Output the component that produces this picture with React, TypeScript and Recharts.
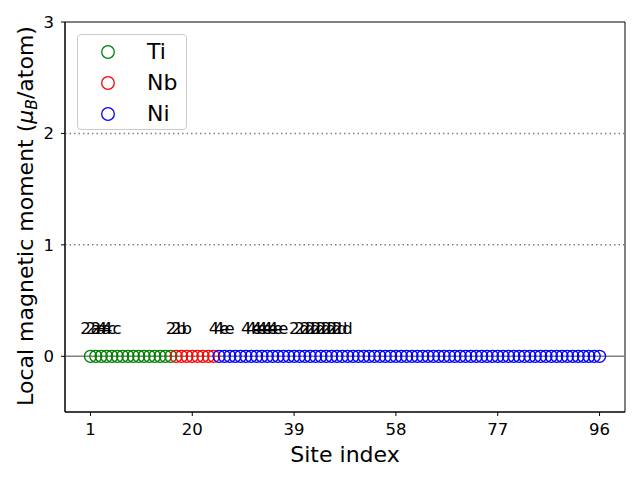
import React from 'react';
import {
  ScatterChart,
  Scatter,
  XAxis,
  YAxis,
  ReferenceLine,
  ReferenceArea,
  Legend,
} from 'recharts';

// site indices and local moments per element
const tiSites = [1, 2, 3, 4, 5, 6, 7, 8, 9, 10, 11, 12, 13, 14, 15, 16];
const tiMoments = [0, 0, 0, 0, 0, 0, 0, 0, 0, 0, 0, 0, 0, 0, 0, 0];

const nbSites = [17, 18, 19, 20, 21, 22, 23, 24];
const nbMoments = [0, 0, 0, 0, 0, 0, 0, 0];

const niSites = [
  25, 26, 27, 28, 29, 30, 31, 32, 33, 34, 35, 36, 37, 38, 39, 40, 41, 42, 43, 44, 45, 46, 47, 48,
  49, 50, 51, 52, 53, 54, 55, 56, 57, 58, 59, 60, 61, 62, 63, 64, 65, 66, 67, 68, 69, 70, 71, 72,
  73, 74, 75, 76, 77, 78, 79, 80, 81, 82, 83, 84, 85, 86, 87, 88, 89, 90, 91, 92, 93, 94, 95, 96,
];
const niMoments = [
  0, 0, 0, 0, 0, 0, 0, 0, 0, 0, 0, 0, 0, 0, 0, 0, 0, 0, 0, 0, 0, 0, 0, 0,
  0, 0, 0, 0, 0, 0, 0, 0, 0, 0, 0, 0, 0, 0, 0, 0, 0, 0, 0, 0, 0, 0, 0, 0,
  0, 0, 0, 0, 0, 0, 0, 0, 0, 0, 0, 0, 0, 0, 0, 0, 0, 0, 0, 0, 0, 0, 0, 0,
];

// Wyckoff labels written above some sites
const labelSites = [1, 2, 3, 4, 5, 17, 18, 25, 26, 31, 32, 33, 34, 35, 36, 40, 41, 42, 43, 44, 45, 46, 47, 48];
const labelTexts = [
  '2a', '2a', '2a', '4c', '4c', '2b', '2b', '4e', '4e', '4e', '4e', '4e', '4e', '4e', '4e',
  '2d', '2d', '2d', '2d', '2d', '2d', '2d', '2d', '2d',
];
const labelHeight = 0.2;

const xTicks = [1, 20, 39, 58, 77, 96];
const yTicks = [0, 1, 2, 3];
const guideLevels = [1, 2];

const series = [
  { name: 'Ti', color: '#008000', sites: tiSites, moments: tiMoments },
  { name: 'Nb', color: '#ff0000', sites: nbSites, moments: nbMoments },
  { name: 'Ni', color: '#0000ff', sites: niSites, moments: niMoments },
];

const FONT = '"DejaVu Sans", sans-serif';
const X_DOMAIN: [number, number] = [-3.75, 100.75];
const Y_DOMAIN: [number, number] = [-0.5, 3];

const toPoints = (sites: number[], moments: number[]) =>
  sites.map((s, i) => ({ site: s, moment: moments[i] }));

const labelData = labelSites.map((s, i) => ({ site: s, moment: labelHeight, label: labelTexts[i] }));

const ringShape = (color: string) => (props: any) => (
  <circle cx={props.cx} cy={props.cy} r={6} fill="none" stroke={color} strokeWidth={1.3} />
);

const textShape = (props: any) => (
  <text
    x={props.cx}
    y={props.cy}
    textAnchor="middle"
    fontFamily={FONT}
    fontSize={16.5}
    fill="#000"
  >
    {props.payload.label}
  </text>
);

const XLabel = (props: any) => {
  const vb = props.viewBox;
  return (
    <text x={vb.x + vb.width / 2} y={vb.y + 50} textAnchor="middle" fontFamily={FONT} fontSize={22} fill="#000">
      Site index
    </text>
  );
};

const YLabel = () => {
  const cx = 33;
  const cy = 216;
  return (
    <text
      x={cx}
      y={cy}
      transform={`rotate(-90, ${cx}, ${cy})`}
      textAnchor="middle"
      fontFamily={FONT}
      fontSize={22}
      fill="#000"
    >
      <tspan>Local magnetic moment (</tspan>
      <tspan fontStyle="italic">μ</tspan>
      <tspan fontStyle="italic" fontSize={15.5} dy={4}>B</tspan>
      <tspan dy={-4}>/atom)</tspan>
    </text>
  );
};

const renderLegend = () => (
  <div
    style={{
      position: 'relative',
      width: 110,
      height: 96,
      boxSizing: 'border-box',
      border: '1px solid #cccccc',
      borderRadius: 4,
      background: 'rgba(255,255,255,0.8)',
      fontFamily: FONT,
      fontSize: 22,
      color: '#000',
    }}
  >
    {series.map((s, i) => (
      <div key={s.name} style={{ position: 'absolute', left: 0, top: 4 + i * 31, height: 26, width: 110 }}>
        <svg width={20} height={26} style={{ position: 'absolute', left: 20, top: 0 }}>
          <circle cx={10} cy={13} r={6.3} fill="none" stroke={s.color} strokeWidth={1.3} />
        </svg>
        <span style={{ position: 'absolute', left: 69, top: 0, lineHeight: '26px' }}>{s.name}</span>
      </div>
    ))}
  </div>
);

export default function App() {
  return (
    <div style={{ position: 'absolute', left: 0, top: 0, width: 640, height: 480, background: '#fff' }}>
      <ScatterChart width={640} height={480} margin={{ top: 22, right: 15, bottom: 0, left: 0 }}>
        <XAxis
          type="number"
          dataKey="site"
          domain={X_DOMAIN}
          ticks={xTicks}
          allowDataOverflow
          height={68}
          tickSize={4}
          tickMargin={7}
          stroke="#000"
          tick={{ fill: '#000', fontSize: 16.5, fontFamily: FONT }}
          label={<XLabel />}
        />
        <YAxis
          type="number"
          dataKey="moment"
          domain={Y_DOMAIN}
          ticks={yTicks}
          allowDataOverflow
          width={65}
          tickSize={4}
          tickMargin={7}
          stroke="#000"
          tick={{ fill: '#000', fontSize: 16.5, fontFamily: FONT }}
          label={<YLabel />}
        />
        {guideLevels.map((g) => (
          <ReferenceLine key={g} y={g} stroke="#808080" strokeWidth={1.5} strokeDasharray="1.5 3" />
        ))}
        <ReferenceLine y={0} stroke="#808080" strokeWidth={1.5} />
        {series.map((s) => (
          <Scatter
            key={s.name}
            name={s.name}
            data={toPoints(s.sites, s.moments)}
            shape={ringShape(s.color)}
            isAnimationActive={false}
          />
        ))}
        <Scatter name="labels" data={labelData} shape={textShape} isAnimationActive={false} legendType="none" />
        <ReferenceArea
          x1={X_DOMAIN[0]}
          x2={X_DOMAIN[1]}
          y1={Y_DOMAIN[0]}
          y2={Y_DOMAIN[1]}
          fill="none"
          stroke="#000"
          strokeWidth={1}
          ifOverflow="visible"
        />
        <Legend
          content={renderLegend}
          layout="vertical"
          align="center"
          verticalAlign="middle"
          wrapperStyle={{ left: 77, top: 34, width: 110, height: 96 }}
        />
      </ScatterChart>
    </div>
  );
}
